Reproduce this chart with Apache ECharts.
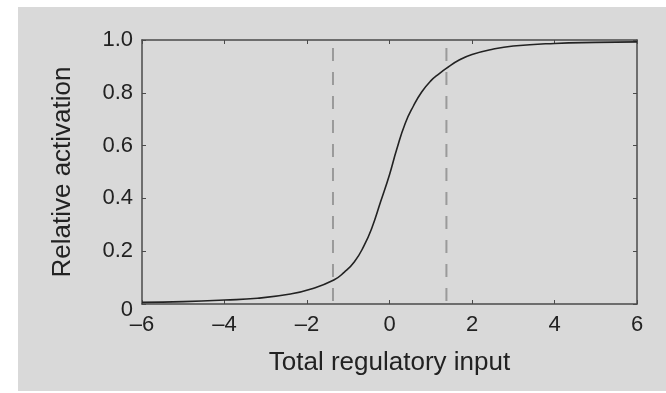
<!DOCTYPE html>
<html>
<head>
<meta charset="utf-8">
<script src="https://cdn.jsdelivr.net/npm/echarts@6/dist/echarts.min.js"></script>
<style>
  html, body { margin: 0; padding: 0; background: #ffffff; }
  #chart { position: absolute; left: 18px; top: 7px; width: 648px; height: 384px; background: #d9d9d9; }
</style>
</head>
<body>
<div id="chart"></div>
<script>
// curve (x = total regulatory input, y = relative activation)
const inputX = [-6, -5, -4, -3.2, -2.4, -1.9, -1.35, -1.1, -0.85, -0.62, -0.43, -0.22, 0, 0.17, 0.38, 0.58, 0.78, 1.0, 1.2, 1.4, 1.7, 2.0, 2.5, 3.0, 4.0, 5.0, 6];
const activation = [0.006, 0.009, 0.015, 0.022, 0.038, 0.057, 0.091, 0.12, 0.16, 0.22, 0.287, 0.385, 0.49, 0.583, 0.684, 0.75, 0.803, 0.845, 0.872, 0.895, 0.925, 0.945, 0.965, 0.977, 0.987, 0.991, 0.993];
// dashed guide lines
const guideX = [-1.37, 1.38];
const guideTop = 0.97;
// tick labels
const xTickLabels = ['\u20136', '\u20134', '\u20132', '0', '2', '4', '6'];
const yTickLabels = ['0', '0.2', '0.4', '0.6', '0.8', '1.0'];

const font = "'Liberation Sans', Arial, Helvetica, sans-serif";
const ink = '#222222';
const axisColor = '#4a4a4a';

const chart = echarts.init(document.getElementById('chart'), null, { renderer: 'canvas' });

const curve = inputX.map((x, i) => [x, activation[i]]);

const guideSeries = guideX.map(x => ({
    type: 'line',
    data: [[x, guideTop], [x, 0]],
    symbol: 'none',
    silent: true,
    lineStyle: { color: '#9a9a9a', width: 2, type: [13, 11] },
    z: 2
}));

const xLabel = v => xTickLabels[Math.round((v + 6) / 2)];
const yLabel = v => {
    const s = yTickLabels[Math.round(v * 5)];
    return v === 0 ? '{z|' + s + '}' : s;
};

// frame axes share these
const frameLine = { show: true, onZero: false, lineStyle: { color: axisColor, width: 1.5 } };
const frameTick = { show: true, inside: true, length: 4, lineStyle: { color: axisColor } };

chart.setOption({
    animation: false,
    backgroundColor: 'transparent',
    grid: { left: 124, top: 33, right: 29, bottom: 87, containLabel: false },
    xAxis: [
        {
            type: 'value',
            min: -6, max: 6, interval: 2,
            name: 'Total regulatory input',
            nameLocation: 'middle',
            nameGap: 46,
            nameTextStyle: { color: ink, fontSize: 26, fontFamily: font },
            axisLine: frameLine,
            axisTick: frameTick,
            axisLabel: { color: ink, fontSize: 22, fontFamily: font, margin: 10, formatter: xLabel },
            splitLine: { show: false }
        },
        {
            type: 'value',
            position: 'top',
            min: -6, max: 6, interval: 2,
            axisLine: frameLine,
            axisTick: frameTick,
            axisLabel: { show: false },
            splitLine: { show: false }
        }
    ],
    yAxis: [
        {
            type: 'value',
            min: 0, max: 1, interval: 0.2,
            name: 'Relative activation',
            nameLocation: 'middle',
            nameGap: 66,
            nameRotate: 90,
            nameTextStyle: { color: ink, fontSize: 26, fontFamily: font },
            axisLine: frameLine,
            axisTick: frameTick,
            axisLabel: {
                color: ink, fontSize: 22, fontFamily: font, margin: 9, formatter: yLabel,
                rich: { z: { color: ink, fontSize: 22, fontFamily: font, padding: [12, 0, 0, 0] } }
            },
            splitLine: { show: false }
        },
        {
            type: 'value',
            position: 'right',
            min: 0, max: 1, interval: 0.2,
            axisLine: frameLine,
            axisTick: frameTick,
            axisLabel: { show: false },
            splitLine: { show: false }
        }
    ],
    series: [
        ...guideSeries,
        {
            type: 'line',
            data: curve,
            smooth: true,
            symbol: 'none',
            lineStyle: { color: ink, width: 1.6 },
            z: 3
        }
    ]
});
</script>
</body>
</html>
